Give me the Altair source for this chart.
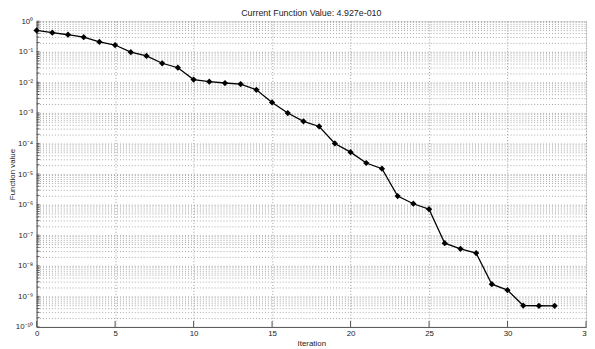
import altair as alt
import pandas as pd

iterations = list(range(34))
values = [0.50, 0.42, 0.36, 0.30, 0.21, 0.166, 0.097, 0.073, 0.042, 0.030,
          0.0123, 0.0105, 0.0095, 0.0088, 0.0057, 0.0022, 0.00099, 5.3e-4, 3.6e-4, 1.0e-4,
          5.2e-5, 2.3e-5, 1.5e-5, 1.9e-6, 1.07e-6, 7.1e-7, 5.5e-8, 3.6e-8, 2.6e-8, 2.5e-9,
          1.6e-9, 5.0e-10, 4.93e-10, 4.927e-10]
x_ticks = [0, 5, 10, 15, 20, 25, 30, 35]
y_ticks = [1.0] + [k * 10.0 ** e for e in range(-10, 0) for k in range(1, 10)]

title = "Current Function Value: 4.927e-010"
font = "Liberation Sans"

df = pd.DataFrame({"iter": iterations, "value": values})
ydf = pd.DataFrame({"t": y_ticks})
xdf = pd.DataFrame({"t": x_ticks})

xscale = alt.Scale(domain=[0, 35], nice=False, zero=False)
yscale = alt.Scale(type="log", domain=[1e-10, 1], nice=False)

sup = "['⁰','⁻¹','⁻²','⁻³','⁻⁴','⁻⁵','⁻⁶','⁻⁷','⁻⁸','⁻⁹','⁻¹⁰']"
label_expr = (
    "abs(log(datum.value)/LN10 - round(log(datum.value)/LN10)) < 1e-6 ? "
    "'10' + " + sup + "[-round(log(datum.value)/LN10)] : ''"
)

xaxis = alt.Axis(values=x_ticks, title="Iteration", grid=True, gridDash=[1, 2],
                 gridColor="#9a9a9a", tickSize=0, labelPadding=3, labelFontSize=8,
                 titleFontSize=8, titleFontWeight="normal", titlePadding=2,
                 domainColor="#555", labelColor="#222", titleColor="#222",
                 labelFont=font, titleFont=font, labelFlush=False)
yaxis = alt.Axis(values=y_ticks, title="Function value", grid=True, gridDash=[1, 2],
                 gridColor="#a8a8a8", tickSize=0, labelPadding=4, labelFontSize=8,
                 labelExpr=label_expr, titleFontSize=8, titleFontWeight="normal",
                 titleX=-20, titleY=155, titleBaseline="bottom", titleAngle=270,
                 domainColor="#555", labelColor="#222",
                 titleColor="#222", labelFont=font, titleFont=font, labelFlush=False,
                 labelOverlap=False)

base = alt.Chart(df)
line = base.mark_line(color="black", strokeWidth=1.3).encode(
    x=alt.X("iter:Q", scale=xscale, axis=xaxis),
    y=alt.Y("value:Q", scale=yscale, axis=yaxis),
)
pts = base.mark_point(shape="diamond", filled=True, color="black", size=40, opacity=1).encode(
    x=alt.X("iter:Q", scale=xscale),
    y=alt.Y("value:Q", scale=yscale),
)
yt = alt.Chart(ydf).mark_rule(color="#555", strokeWidth=1).encode(
    y=alt.Y("t:Q", scale=yscale), x=alt.value(0), x2=alt.value(3)
)
xt = alt.Chart(xdf).mark_rule(color="#555", strokeWidth=1).encode(
    x=alt.X("t:Q", scale=xscale), y=alt.value(310), y2=alt.value(304)
)

chart = alt.layer(yt, xt, line, pts).properties(
    width=557, height=310,
    title=alt.TitleParams(title, fontSize=9, fontWeight="normal", font=font,
                          color="#222", offset=4, anchor="middle", dy=5),
    autosize=alt.AutoSizeParams(type="none"),
    padding={"left": 29, "top": 11, "right": 1, "bottom": 20},
).configure_view(stroke=None).configure(background="white")

chart.save("out.html", embed_options={"renderer": "svg", "actions": False})
